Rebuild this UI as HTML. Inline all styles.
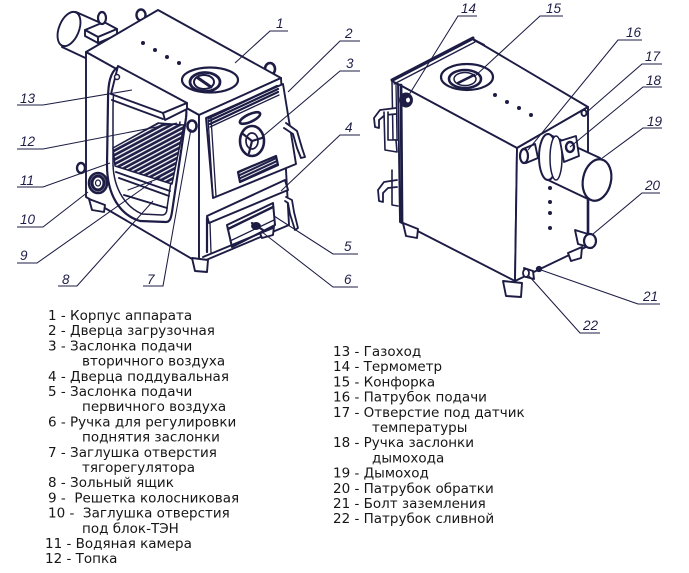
<!DOCTYPE html>
<html><head><meta charset="utf-8">
<style>
html,body{margin:0;padding:0;background:#fff;}
svg{display:block;}
.lg{font-family:"DejaVu Sans","Liberation Sans",sans-serif;font-size:13.5px;fill:#161616;}
.lb{font-family:"Liberation Sans","DejaVu Sans",sans-serif;font-style:italic;font-size:13.5px;fill:#1f1f48;}
</style></head><body>
<svg width="689" height="573" viewBox="0 0 689 573" xmlns="http://www.w3.org/2000/svg">
<defs>
<pattern id="hatch" patternUnits="userSpaceOnUse" width="4" height="4" patternTransform="rotate(-28)">
<rect width="4" height="4" fill="#1f1f48"/><rect y="0" width="4" height="1.3" fill="#fff"/>
</pattern>
<pattern id="hatch2" patternUnits="userSpaceOnUse" width="3" height="3" patternTransform="rotate(-25)">
<rect width="3" height="3" fill="#1f1f48"/><rect width="3" height="0.9" fill="#fff"/>
</pattern>
</defs>
<rect width="689" height="573" fill="#fff"/>

<!-- ================= LEFT BOILER ================= -->
<g stroke="#1c1c44" stroke-width="1.9" fill="#fff" stroke-linejoin="round" stroke-linecap="round">
  <!-- chimney behind -->
  <path d="M76,12 L112,28 L94,62 L62,47 Z"/>
  <ellipse cx="69" cy="29" rx="10" ry="18" transform="rotate(22 69 29)"/>
  <!-- bracket -->
  <path d="M85,30 L104,22 L117,29 L98,37 Z"/>
  <path d="M85,30 L98,37 L98,43 L85,36 Z"/>
  <path d="M98,37 L117,29 L117,35 L98,43 Z"/>
  <ellipse cx="102" cy="18" rx="4" ry="6" stroke-width="2.2"/>
  <ellipse cx="141" cy="15" rx="4.5" ry="5.5" stroke-width="2.4"/>
  <ellipse cx="270" cy="69" rx="5" ry="6" stroke-width="2.6"/>

  <!-- body faces -->
  <path d="M86,52 L158,10 L281,78 L199,115 Z"/>
  <path d="M86,52 L199,115 L199,263 L86,197 Z"/>
  <path d="M199,115 L281,78 L289,225 L199,263 Z"/>

  <!-- top dots -->
  <g fill="#1c1c44" stroke="none">
    <circle cx="143" cy="43" r="2"/><circle cx="155" cy="50" r="2"/>
    <circle cx="167" cy="57" r="2"/><circle cx="179" cy="63" r="2"/>
  </g>
  <!-- hob -->
  <ellipse cx="210" cy="80" rx="28" ry="12.5" stroke-width="2.2"/>
  <ellipse cx="205" cy="82" rx="15" ry="9.5" stroke-width="2.8"/>
  <ellipse cx="204" cy="82" rx="10" ry="7" stroke-width="2"/>
  <line x1="198" y1="78" x2="211" y2="87" stroke-width="3"/>

  <!-- arch opening on left face -->
  <path d="M118,67 C110,72 108,84 108,100 L107,165 C107,195 120,215 140,221 L166,222 C170,222 171,218 172,212 L186,118 C187,110 186,106 184,104" fill="none" stroke-width="2.2"/>
  <path d="M116,82 C113,92 113,102 113,112 L113,165 C114,190 126,207 142,214 L162,215 C166,215 167,212 167,208 L180,122" fill="none" stroke-width="1.5"/>
  <!-- grate -->
  <path d="M113,148 L158,123 L184,125 L172,184 L115,166 Z" fill="url(#hatch)" stroke-width="1.5"/>
  <!-- ash box lines -->
  <line x1="116" y1="172" x2="170" y2="191"/>
  <line x1="119" y1="178" x2="169" y2="196"/>
  <line x1="124" y1="195" x2="167" y2="208"/>
  <line x1="128" y1="190" x2="160" y2="178" stroke-width="1.1"/>
  <!-- plate 13 -->
  <path d="M118,66 L187,103 L163,113 L111,94 Z"/>
  <path d="M163,113 L187,103 L187,109 L165,120 Z"/>
  <line x1="112" y1="100" x2="163" y2="119"/>
  <circle cx="117" cy="77" r="2.5" stroke-width="1.5"/>
  <!-- knob 7 -->
  <ellipse cx="192" cy="126" rx="4.5" ry="5.5" stroke-width="2.6"/>
  <!-- pipe 11 -->
  <ellipse cx="81" cy="168" rx="4" ry="5" stroke-width="2.4"/>
  <!-- plug 10 -->
  <ellipse cx="98" cy="183" rx="9" ry="10" stroke-width="2.6"/>
  <ellipse cx="98" cy="183" rx="6" ry="7" stroke-width="3"/>
  <ellipse cx="98" cy="183" rx="2.5" ry="3" stroke-width="1.2"/>
  <!-- feet -->
  <path d="M89,199 L105,205 L104,212 L92,210 Z"/>
  <path d="M192,258 L208,260 L207,272 L195,271 Z"/>
  <path d="M259,231 L274,226 L273,235 L262,238 Z"/>

  <!-- door 2 -->
  <path d="M206,118 L283,84 L296,164 L213,198 Z"/>
  <line x1="208" y1="118" x2="213" y2="197" stroke-width="1.3"/>
  <line x1="211" y1="118" x2="216" y2="196" stroke-width="1.3"/>
  <line x1="209" y1="118" x2="277" y2="86" stroke-width="2.2"/>
  <line x1="209" y1="121" x2="278" y2="89" stroke-width="2.2"/>
  <line x1="210" y1="124" x2="278" y2="92" stroke-width="2.2"/>
  <line x1="210" y1="127" x2="279" y2="95" stroke-width="1.3"/>
  <ellipse cx="250" cy="118" rx="11" ry="3.8" transform="rotate(-25 250 118)" stroke-width="2.6"/>
  <ellipse cx="252" cy="141" rx="12" ry="15" stroke-width="2.6"/>
  <ellipse cx="252" cy="141" rx="6" ry="8" stroke-width="1.7"/>
  <line x1="252" y1="141" x2="243" y2="134" stroke-width="2.2"/>
  <line x1="252" y1="141" x2="262" y2="138" stroke-width="2.2"/>
  <line x1="252" y1="141" x2="249" y2="153" stroke-width="2.2"/>
  <path d="M238,172 L276,156 L278,165 L240,182 Z" fill="url(#hatch2)" stroke-width="2.2"/>
  <!-- door handle -->
  <path d="M286,123 L297,131 L302,148 L305,157 L301,158 L297,148 L293,134 L284,128" stroke-width="1.9"/>

  <!-- ash door 4 -->
  <path d="M207,216 L285,180 L288,190 L209,223 Z" stroke-width="2"/>
  <line x1="207" y1="218" x2="207" y2="252" stroke-width="2.2"/>
  <line x1="210" y1="223" x2="211" y2="253" stroke-width="1.3"/>
  <path d="M227,225 L273,203 L275,225 L232,247 Z" stroke-width="2"/>
  <line x1="228" y1="229" x2="273" y2="207" stroke-width="2.4"/>
  <line x1="230" y1="241" x2="274" y2="220" stroke-width="1.3"/>
  <ellipse cx="256" cy="226" rx="4" ry="3" fill="#1c1c44"/>
  <line x1="252" y1="223" x2="263" y2="230" stroke-width="2.2"/>
  <path d="M286,197 L292,200 L294,212 L298,228 L295,230 L290,214 L288,203 L285,201" stroke-width="1.8"/>
  <line x1="203" y1="257" x2="273" y2="228"/>
</g>

<!-- ================= RIGHT BOILER ================= -->
<g stroke="#1c1c44" stroke-width="1.9" fill="#fff" stroke-linejoin="round" stroke-linecap="round">
  <path d="M392,81 L473,39 L588,107 L517,148 Z"/>
  <path d="M398,84 L517,148 L515,281 L400,222 Z"/>
  <path d="M517,148 L588,107 L588,246 L515,281 Z"/>
  <!-- flange -->
  <line x1="392" y1="80" x2="473" y2="38" stroke-width="3"/>
  <line x1="394" y1="84" x2="475" y2="42" stroke-width="1.3"/>
  <line x1="474" y1="40" x2="484" y2="45" stroke-width="2.2"/>
  <line x1="401" y1="85" x2="402" y2="222" stroke-width="2.8"/>
  <path d="M392,81 L393,140 L398,140" stroke-width="1.5" fill="none"/>
  <line x1="396" y1="84" x2="397" y2="140" stroke-width="1.3"/>
  <!-- dots -->
  <g fill="#1c1c44" stroke="none">
    <circle cx="495" cy="95" r="2"/><circle cx="507" cy="102" r="2"/>
    <circle cx="519" cy="108" r="2"/><circle cx="531" cy="115" r="2"/>
    <circle cx="550" cy="188" r="2"/><circle cx="550" cy="202" r="2"/>
    <circle cx="550" cy="213" r="2"/><circle cx="550" cy="228" r="2"/>
  </g>
  <!-- hob -->
  <ellipse cx="467" cy="77" rx="26" ry="13" stroke-width="2.2"/>
  <ellipse cx="465" cy="79" rx="16" ry="9" stroke-width="2.6"/>
  <ellipse cx="465" cy="79" rx="11" ry="6.5" stroke-width="1.5"/>
  <line x1="458" y1="83" x2="474" y2="75" stroke-width="2.6"/>
  <!-- thermometer -->
  <ellipse cx="406" cy="100" rx="6" ry="6.5" fill="#1c1c44"/>
  <ellipse cx="408" cy="100" rx="2.5" ry="3" fill="#fff" stroke-width="1"/>
  <!-- handles on left -->
  <path d="M396,108 L380,110 L374,118 L375,127 L379,128 L379,120 L385,115 L396,114" stroke-width="1.8"/>
  <path d="M384,112 L385,150 L397,152 L396,140 L388,140 L388,112" stroke-width="1.6"/>
  <path d="M397,180 L384,182 L378,190 L379,201 L383,202 L383,193 L388,188 L397,187" stroke-width="1.8"/>
  <path d="M392,170 L392,205 L398,206" stroke-width="1.6" fill="none"/>
  <!-- feet -->
  <path d="M403,223 L418,229 L417,238 L406,236 Z"/>
  <path d="M503,281 L522,283 L521,297 L506,296 Z"/>
  <path d="M568,253 L582,247 L581,258 L571,261 Z"/>
  <!-- pipe 16 -->
  <path d="M523,149 L535,144 L538,158 L526,163 Z"/>
  <ellipse cx="524" cy="156" rx="4" ry="7" stroke-width="2.2"/>
  <!-- hole 17 -->
  <ellipse cx="584" cy="113" rx="2.5" ry="3" stroke-width="2"/>
  <!-- chimney 19 -->
  <path d="M548,134 L600,158 L588,199 L548,180 Z"/>
  <ellipse cx="548" cy="157" rx="9" ry="23" stroke-width="2"/>
  <ellipse cx="556" cy="158" rx="6" ry="22" stroke-width="1.5"/>
  <path d="M560,141 L576,136 L579,156 L564,162 Z" stroke-width="1.8"/>
  <ellipse cx="570" cy="147" rx="4" ry="5" stroke-width="2.4"/>
  <ellipse cx="597" cy="180" rx="14" ry="21" transform="rotate(12 597 180)" stroke-width="2.2"/>
  <line x1="588" y1="199" x2="588" y2="246" stroke-width="2.6"/>
  <!-- pipe 20 -->
  <path d="M575,230 L588,234 L592,248 L578,244 Z"/>
  <ellipse cx="590" cy="241" rx="6" ry="7" stroke-width="2.2"/>
  <!-- bolt 21, drain 22 -->
  <circle cx="539" cy="269" r="2.2" fill="#1c1c44"/>
  <path d="M524,268 L533,271 L534,279 L526,277 Z"/>
  <ellipse cx="526" cy="273" rx="3" ry="4" stroke-width="1.8"/>
</g>

<!-- ================= LEADERS ================= -->
<g stroke="#1c1c44" stroke-width="1.05" fill="none">
  <path d="M288,31 L270,31 L235,63"/>
  <path d="M360,41 L340,41 L288,92"/>
  <path d="M360,71 L340,71 L262,137"/>
  <path d="M360,135 L340,135 L281,191"/>
  <path d="M358,254 L333,254 L274,216"/>
  <path d="M358,287 L333,287 L262,232"/>
  <path d="M143,286 L163,286 L191,129"/>
  <path d="M58,286 L77,286 L153,201"/>
  <path d="M17,263 L37,263 L152,182"/>
  <path d="M17,227 L43,227 L88,192"/>
  <path d="M17,187 L43,187 L110,163"/>
  <path d="M17,149 L43,149 L177,123"/>
  <path d="M17,105 L43,105 L132,90"/>

  <path d="M477,16 L458,16 L407,98"/>
  <path d="M563,16 L540,16 L474,77"/>
  <path d="M642,40 L618,40 L528,150"/>
  <path d="M662,64 L642,64 L587,112"/>
  <path d="M662,87 L643,87 L570,147"/>
  <path d="M662,128 L643,128 L601,159"/>
  <path d="M660,193 L642,193 L593,234"/>
  <path d="M660,304 L638,304 L541,270"/>
  <path d="M600,333 L580,333 L529,276"/>
</g>

<!-- ================= LABEL NUMBERS ================= -->
<g class="lb">
  <text x="276" y="28">1</text>
  <text x="345" y="38">2</text>
  <text x="346" y="68">3</text>
  <text x="345" y="132">4</text>
  <text x="344" y="251">5</text>
  <text x="344" y="284">6</text>
  <text x="147" y="284">7</text>
  <text x="62" y="284">8</text>
  <text x="20" y="260">9</text>
  <text x="20" y="224">10</text>
  <text x="20" y="185">11</text>
  <text x="20" y="146">12</text>
  <text x="20" y="103">13</text>

  <text x="461" y="13">14</text>
  <text x="546" y="13">15</text>
  <text x="626" y="37">16</text>
  <text x="645" y="61">17</text>
  <text x="646" y="85">18</text>
  <text x="647" y="126">19</text>
  <text x="645" y="190">20</text>
  <text x="643" y="301">21</text>
  <text x="583" y="330">22</text>
</g>

<!-- ================= LEGEND ================= -->
<g class="lg">
  <text x="48" y="320">1 - Корпус аппарата</text>
  <text x="48" y="335.2">2 - Дверца загрузочная</text>
  <text x="48" y="350.4">3 - Заслонка подачи</text>
  <text x="82" y="365.6">вторичного воздуха</text>
  <text x="48" y="380.8">4 - Дверца поддувальная</text>
  <text x="48" y="396">5 - Заслонка подачи</text>
  <text x="82" y="411.2">первичного воздуха</text>
  <text x="48" y="426.4">6 - Ручка для регулировки</text>
  <text x="82" y="441.6">поднятия заслонки</text>
  <text x="48" y="456.8">7 - Заглушка отверстия</text>
  <text x="82" y="472">тягорегулятора</text>
  <text x="48" y="487.2">8 - Зольный ящик</text>
  <text x="48" y="502.4">9 -&#160; Решетка колосниковая</text>
  <text x="48" y="517.6">10 -&#160; Заглушка отверстия</text>
  <text x="82" y="532.8">под блок-ТЭН</text>
  <text x="45" y="548">11 - Водяная камера</text>
  <text x="45" y="563.2">12 - Топка</text>

  <text x="333" y="356">13 - Газоход</text>
  <text x="333" y="371.2">14 - Термометр</text>
  <text x="333" y="386.4">15 - Конфорка</text>
  <text x="333" y="401.6">16 - Патрубок подачи</text>
  <text x="333" y="416.8">17 - Отверстие под датчик</text>
  <text x="372" y="432">температуры</text>
  <text x="333" y="447.2">18 - Ручка заслонки</text>
  <text x="372" y="462.4">дымохода</text>
  <text x="333" y="477.6">19 - Дымоход</text>
  <text x="333" y="492.8">20 - Патрубок обратки</text>
  <text x="333" y="508">21 - Болт заземления</text>
  <text x="333" y="523.2">22 - Патрубок сливной</text>
</g>
</svg>
</body></html>
